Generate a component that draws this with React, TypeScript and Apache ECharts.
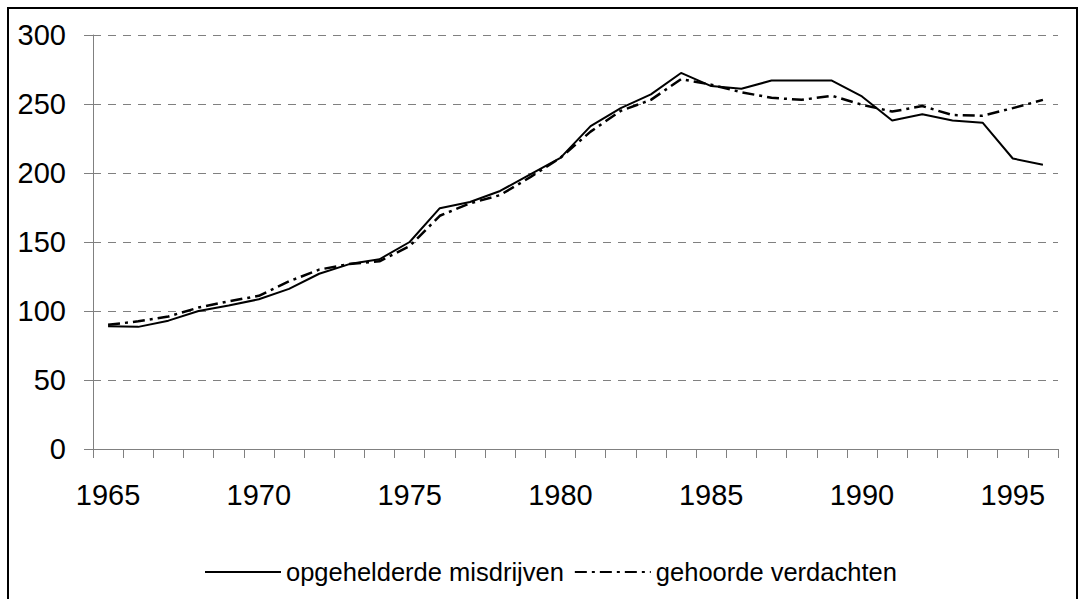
import React, { useEffect, useRef } from "react";
import * as echarts from "echarts";

const years = [
  "1965", "1966", "1967", "1968", "1969", "1970", "1971", "1972",
  "1973", "1974", "1975", "1976", "1977", "1978", "1979", "1980",
  "1981", "1982", "1983", "1984", "1985", "1986", "1987", "1988",
  "1989", "1990", "1991", "1992", "1993", "1994", "1995", "1996",
];

// opgehelderde misdrijven (solid)
const solved = [
  89, 88.5, 93, 100, 104, 108.5, 116, 127,
  134, 137.5, 150, 174.5, 179, 187, 199, 211,
  234, 247, 257, 272.5, 263, 261, 267, 267,
  267, 255.5, 238, 242.5, 238, 236.5, 210.5, 206,
];

// gehoorde verdachten (dash-dot)
const suspects = [
  90, 92.5, 96, 102.5, 107, 111, 121.5, 130,
  134, 136, 147, 169, 178, 184, 197, 211,
  230, 245, 253, 268, 264, 258.5, 254.5, 253,
  256, 249.5, 244.5, 248.5, 242, 241.5, 247, 253,
];

const FONT = "'Liberation Sans', Arial, Helvetica, sans-serif";
const GRAY = "#808080";

export default function App() {
  const ref = useRef<HTMLDivElement>(null);

  useEffect(() => {
    if (!ref.current) return;
    const chart = echarts.init(ref.current, undefined, { renderer: "svg" });
    chart.setOption({
      animation: false,
      backgroundColor: "#ffffff",
      textStyle: { fontFamily: FONT },
      graphic: [
        {
          type: "rect",
          silent: true,
          z: 100,
          shape: { x: 8, y: 8, width: 1069, height: 700 },
          style: { fill: "none", stroke: "#000000", lineWidth: 2 },
        },
      ],
      grid: { left: 93, right: 20, top: 35, bottom: 150, containLabel: false },
      legend: {
        top: 554,
        left: 199,
        itemWidth: 76,
        itemHeight: 14,
        itemGap: 10,
        itemStyle: { opacity: 0, borderWidth: 0 },
        textStyle: { fontSize: 25.5, color: "#000000", fontFamily: FONT },
        data: ["opgehelderde misdrijven", "gehoorde verdachten"],
      },
      xAxis: {
        type: "category",
        data: years,
        boundaryGap: true,
        axisLine: { show: true, lineStyle: { color: GRAY, width: 1 } },
        axisTick: { show: true, interval: 0, length: 9, lineStyle: { color: GRAY, width: 1 } },
        axisLabel: { interval: 4, fontSize: 29, color: "#000000", margin: 31, fontFamily: FONT },
        splitLine: { show: false },
      },
      yAxis: {
        type: "value",
        min: 0,
        max: 300,
        interval: 50,
        axisLine: { show: true, lineStyle: { color: GRAY, width: 1 } },
        axisTick: { show: true, length: 9, lineStyle: { color: GRAY, width: 1 } },
        axisLabel: { fontSize: 29, color: "#000000", margin: 27, fontFamily: FONT },
        splitLine: { show: true, lineStyle: { color: GRAY, width: 1, type: [8, 7] } },
      },
      series: [
        {
          name: "opgehelderde misdrijven",
          type: "line",
          data: solved,
          symbol: "none",
          showSymbol: false,
          itemStyle: { color: "#000000" },
          lineStyle: { color: "#000000", width: 2 },
        },
        {
          name: "gehoorde verdachten",
          type: "line",
          data: suspects,
          symbol: "none",
          showSymbol: false,
          itemStyle: { color: "#000000" },
          lineStyle: { color: "#000000", width: 2.5, type: [12, 5, 3, 5] },
        },
      ],
    });
    return () => chart.dispose();
  }, []);

  return (
    <div
      ref={ref}
      style={{ position: "fixed", left: 0, top: 0, width: 1078, height: 599 }}
    />
  );
}
